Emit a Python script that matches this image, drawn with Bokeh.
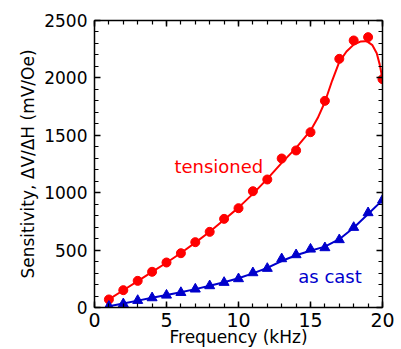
from bokeh.plotting import figure
from bokeh.models import (LinearAxis, SingleIntervalTicker, Range1d,
                          CustomJSTickFormatter, ColumnDataSource)
from bokeh.core.properties import value
from bokeh.embed import file_html
from bokeh.resources import INLINE

# measured sensitivity at each drive frequency
freq_khz = [1, 2, 3, 4, 5, 6, 7, 8, 9, 10, 11, 12, 13, 14, 15, 16, 17, 18, 19, 20]
tensioned = [70, 151, 232, 311, 392, 473, 569, 659, 772, 865, 1013, 1115, 1298,
             1368, 1527, 1800, 2166, 2326, 2355, 1989]
as_cast = [10, 32, 61, 84, 107, 130, 160, 189, 218, 250, 302, 340, 424, 459,
           508, 520, 590, 697, 825, 935]

# smooth fitted trend lines
fit_t_x = [1, 2, 3, 4, 5, 6, 7, 8, 9, 10, 11, 12, 13, 14, 15, 15.5, 16, 16.5,
           17, 17.5, 18, 18.5, 18.8, 19, 19.3, 19.6, 19.8, 20]
fit_t_y = [70, 150, 230, 310, 390, 475, 565, 660, 765, 870, 990, 1120, 1260,
           1390, 1540, 1650, 1790, 1975, 2140, 2230, 2290, 2318, 2320, 2312,
           2285, 2215, 2120, 1990]
fit_c_x = [1, 2, 3, 4, 5, 6, 7, 8, 9, 10, 11, 12, 13, 14, 15, 16, 17, 18, 19, 20]
fit_c_y = [10, 35, 60, 85, 108, 132, 160, 190, 220, 255, 297, 345, 405, 455,
           495, 530, 595, 695, 815, 935]

x_title = "Frequency (kHz)"
y_title = "Sensitivity, ΔV/ΔH (mV/Oe)"

RED = "#ff0000"
BLUE = "#0000cc"
FONT = "DejaVu Sans"

W, H = 401, 349
BL, BR, BT, BB = 94, 19, 20, 41
X0, X1, Y0, Y1 = 0, 20, 0, 2500

p = figure(width=W, height=H, output_backend="svg", toolbar_location=None,
           x_range=Range1d(X0, X1), y_range=Range1d(Y0, Y1),
           x_axis_location=None, y_axis_location=None,
           min_border_left=BL, min_border_right=BR, min_border_top=BT,
           min_border_bottom=BB)
p.grid.visible = False
p.outline_line_color = None
p.background_fill_color = "white"
p.border_fill_color = "white"


def make_axis(ticker, labelled, label_size):
    ax = LinearAxis(ticker=ticker)
    ax.axis_line_color = "black"
    ax.axis_line_width = 1.5
    ax.major_tick_in = 6
    ax.major_tick_out = 0
    ax.minor_tick_in = 4
    ax.minor_tick_out = 0
    ax.major_tick_line_width = 1.5
    ax.minor_tick_line_width = 1.2
    ax.major_label_text_font = FONT
    ax.major_label_text_color = "black"
    ax.axis_label_text_font = FONT
    ax.axis_label_text_font_style = "normal"
    ax.axis_label_text_color = "black"
    if labelled:
        ax.major_label_text_font_size = label_size
    else:
        ax.formatter = CustomJSTickFormatter(code="return ''")
        ax.major_label_text_font_size = "1px"
        ax.major_label_standoff = 0
    return ax


def xt():
    return SingleIntervalTicker(interval=5, num_minor_ticks=5)


def yt():
    return SingleIntervalTicker(interval=500, num_minor_ticks=5)


bottom = make_axis(xt(), True, "19px")
bottom.axis_label = x_title
bottom.axis_label_text_font_size = "17px"
bottom.major_label_standoff = 5
bottom.axis_label_standoff = -3
left = make_axis(yt(), True, "17px")
left.axis_label = y_title
left.axis_label_text_font_size = "17px"
left.major_label_standoff = 7
left.axis_label_standoff = 3
top = make_axis(xt(), False, "1px")
right = make_axis(yt(), False, "1px")

p.add_layout(bottom, "below")
p.add_layout(left, "left")
p.add_layout(top, "above")
p.add_layout(right, "right")

# fitted curves
p.line(fit_t_x, fit_t_y, line_color=RED, line_width=2)
p.line(fit_c_x, fit_c_y, line_color=BLUE, line_width=2)

# measured points
src = ColumnDataSource(dict(f=freq_khz, t=tensioned, c=as_cast))
p.scatter("f", "t", source=src, marker="circle", size=9,
          fill_color=RED, line_color=RED)
p.scatter("f", "c", source=src, marker="triangle", size=10,
          fill_color=BLUE, line_color=BLUE)

# series labels
p.text(x=[5.55], y=[1224], text=["tensioned"], text_color=RED,
       text_font=value(FONT), text_font_size="18px",
       text_baseline="alphabetic", text_align="left")
p.text(x=[14.15], y=[269], text=["as cast"], text_color=BLUE,
       text_font=value(FONT), text_font_size="18px",
       text_baseline="alphabetic", text_align="left")

open("out.html", "w").write(file_html(p, INLINE))
